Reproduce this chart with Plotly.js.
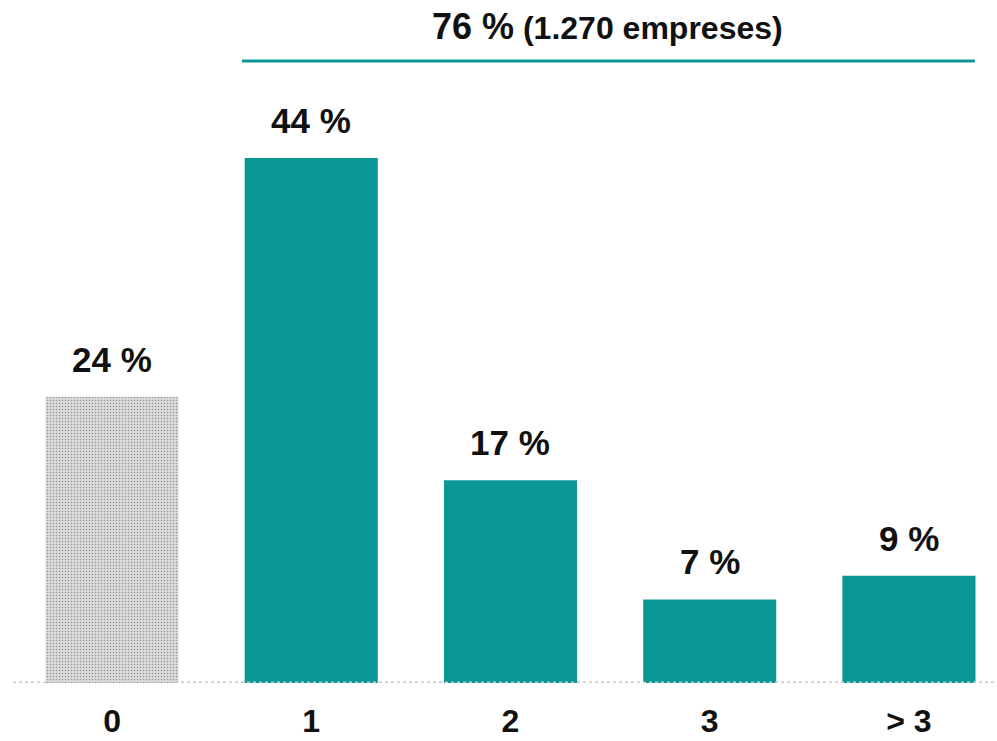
<!DOCTYPE html>
<html>
<head>
<meta charset="utf-8">
<script src="https://cdn.plot.ly/plotly-3.0.1.min.js"></script>
<style>html,body{margin:0;padding:0;background:#fff;}#chart{width:997px;height:741px;}</style>
</head>
<body>
<div id="chart"></div>
<script>
var categories = ["0", "1", "2", "3", "> 3"];
var values = [24, 44, 17, 7, 9];
var valueLabels = ["24 %", "44 %", "17 %", "7 %", "9 %"];
var groupLabelMain = "76 %";
var groupLabelSub = "(1.270 empreses)";

var teal = "#0b9794";
var gray = "#dbdbdb";
var FONT = "Liberation Sans, Arial, sans-serif";
var xs = categories.map(function(c, i){ return i; });

var trace = {
  type: "bar",
  x: xs,
  y: values,
  width: 0.668,
  marker: {
    color: values.map(function(v, i){ return i === 0 ? gray : teal; }),
    pattern: {
      shape: values.map(function(v, i){ return i === 0 ? "." : ""; }),
      fillmode: "overlay",
      fgcolor: "#d0d0d0",
      size: 3,
      solidity: 0.2
    },
    line: {width: 0}
  },
  hoverinfo: "skip"
};

var annotations = values.map(function(v, i){
  return {
    x: i, y: v, xref: "x", yref: "y",
    text: "<b>" + valueLabels[i] + "</b>",
    showarrow: false, yanchor: "bottom", yshift: 16,
    font: {family: FONT, size: 35, color: "#111"}
  };
});
annotations.push({
  x: (607 - 13) / 984, y: 1 - 26 / 683, xref: "paper", yref: "paper",
  text: "<b><span style='font-size:36px'>" + groupLabelMain + "</span> " + groupLabelSub + "</b>",
  showarrow: false, xanchor: "center", yanchor: "middle",
  font: {family: FONT, size: 32, color: "#111"}
});

var layout = {
  width: 997, height: 741,
  margin: {l: 13, r: 0, t: 0, b: 58},
  paper_bgcolor: "#fff", plot_bgcolor: "#fff",
  showlegend: false,
  xaxis: {
    range: [-0.497, 4.442],
    tickmode: "array", tickvals: xs, ticktext: categories.map(function(c){return "<b>"+c+"</b>";}),
    showgrid: false, zeroline: false, showline: false, ticks: "",
    ticklabelstandoff: 16,
    tickfont: {family: FONT, size: 32, color: "#111"},
    fixedrange: true
  },
  yaxis: {
    range: [0, 57.25], visible: false, showgrid: false, zeroline: false, fixedrange: true
  },
  shapes: [
    {type: "line", xref: "paper", yref: "y", x0: 0, x1: 1, y0: 0, y1: 0,
     line: {color: "#c8c8c8", width: 3, dash: "dot"}},
    {type: "line", xref: "x", yref: "y", x0: 0.652, x1: 4.331, y0: 52.14, y1: 52.14,
     line: {color: teal, width: 3}}
  ],
  annotations: annotations
};

Plotly.newPlot("chart", [trace], layout, {displayModeBar: false, staticPlot: true});
</script>
</body>
</html>
